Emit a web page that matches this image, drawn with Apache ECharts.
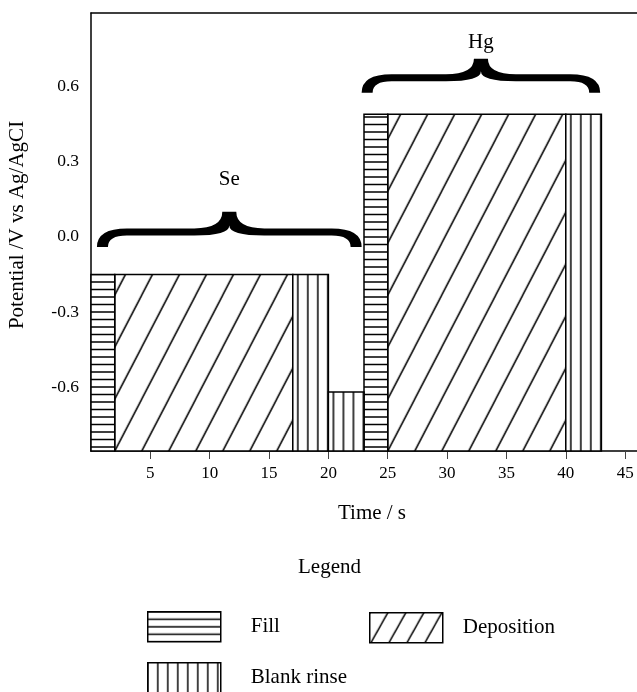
<!DOCTYPE html>
<html>
<head>
<meta charset="utf-8">
<script src="https://cdn.jsdelivr.net/npm/echarts@6/dist/echarts.min.js"></script>
<style>
  html, body { margin: 0; padding: 0; background: #fff; }
  #chart { width: 637px; height: 692px; }
</style>
</head>
<body>
<div id="chart"></div>
<script>
const FONT = '"Liberation Serif", "DejaVu Serif", serif';

// Potential program: [start time / s, end time / s, potential / V]
const seriesNames = ['Fill', 'Deposition', 'Blank rinse'];
const fillSteps = [[0, 2, -0.15], [23, 25, 0.49]];
const depositionSteps = [[2, 17, -0.15], [25, 40, 0.49]];
const rinseSteps = [[17, 20, -0.15], [20, 23, -0.62], [40, 43, 0.49]];

// Element brackets: [start s, end s, hook potential, tip potential, label potential, label]
const braceGroups = [
  [0.5, 22.8, -0.04, 0.10, 0.228, 'Se'],
  [22.8, 42.9, 0.576, 0.712, 0.776, 'Hg']
];

const xTicks = [5, 10, 15, 20, 25, 30, 35, 40, 45];
const yTicks = [-0.6, -0.3, 0.0, 0.3, 0.6];
const X_MIN = 0, X_MAX = 46;
const Y_MIN = -0.856, Y_MAX = 0.895;

// Hatch tiles used as repeating fills
function tile(w, h, draw) {
  const c = document.createElement('canvas');
  c.width = w; c.height = h;
  const ctx = c.getContext('2d');
  ctx.fillStyle = '#fff';
  ctx.fillRect(0, 0, w, h);
  ctx.strokeStyle = '#000';
  ctx.lineWidth = 1.5;
  ctx.beginPath();
  draw(ctx, w, h);
  ctx.stroke();
  return c;
}
function diagonal(ctx, w, h) {
  for (let k = -1; k <= 1; k++) {
    ctx.moveTo(k * w - w, 2 * h);
    ctx.lineTo(k * w + 2 * w, -h);
  }
}
const horizontalTile = tile(10, 15, (ctx, w) => {
  ctx.moveTo(0, 3.5); ctx.lineTo(w, 3.5);
  ctx.moveTo(0, 11); ctx.lineTo(w, 11);
});
const verticalTile = tile(10, 10, (ctx, w, h) => {
  ctx.moveTo(5, 0); ctx.lineTo(5, h);
});
const diagonalTile = tile(27, 52, diagonal);

// Finer tiles for the legend swatches
const horizontalKeyTile = tile(10, 15, (ctx, w) => {
  ctx.moveTo(0, 0); ctx.lineTo(w, 0);
  ctx.moveTo(0, 7.5); ctx.lineTo(w, 7.5);
  ctx.moveTo(0, 15); ctx.lineTo(w, 15);
});
const verticalKeyTile = tile(10, 10, (ctx, w, h) => {
  ctx.moveTo(0, 0); ctx.lineTo(0, h);
  ctx.moveTo(w, 0); ctx.lineTo(w, h);
});
const diagonalKeyTile = tile(18, 32, diagonal);

function pattern(img, x, y) {
  return { image: img, repeat: 'repeat', x: x || 0, y: y || 0 };
}

function stepRenderer(img) {
  return function (params, api) {
    const p0 = api.coord([api.value(0), Y_MIN]);
    const p1 = api.coord([api.value(1), api.value(2)]);
    const x = p0[0], y = p1[1];
    return {
      type: 'rect',
      shape: { x: x, y: y, width: p1[0] - p0[0], height: p0[1] - p1[1] },
      style: { fill: pattern(img, x, p0[1]), stroke: '#000', lineWidth: 1.5 }
    };
  };
}

function braceRenderer(params, api) {
  const x0v = api.value(0), x1v = api.value(1);
  const a = api.coord([x0v, api.value(2)]);
  const b = api.coord([x1v, api.value(2)]);
  const tip = api.coord([(x0v + x1v) / 2, api.value(3)]);
  const lab = api.coord([(x0v + x1v) / 2, api.value(4)]);
  const x0 = a[0], x1 = b[0], yb = a[1], xc = tip[0], yt = tip[1];
  const ym = yb - 15, t = 7, r = 30, rc = 35, w = 11, hw = 7;
  const top = ym - t / 2, bot = ym + t / 2;
  const d = [
    'M', x0, yb,
    'Q', x0, top, x0 + r, top,
    'L', xc - rc, top,
    'Q', xc - hw, top, xc - hw, yt,
    'L', xc + hw, yt,
    'Q', xc + hw, top, xc + rc, top,
    'L', x1 - r, top,
    'Q', x1, top, x1, yb,
    'L', x1 - w, yb,
    'Q', x1 - w, bot, x1 - r, bot,
    'L', xc + rc, bot,
    'Q', xc, bot, xc, top - 3,
    'Q', xc, bot, xc - rc, bot,
    'L', x0 + r, bot,
    'Q', x0 + w, bot, x0 + w, yb,
    'Z'
  ].join(' ');
  return {
    type: 'group',
    children: [
      { type: 'path', shape: { pathData: d }, style: { fill: '#000' } },
      {
        type: 'text', x: lab[0], y: lab[1],
        style: {
          text: api.value(5), fill: '#000',
          font: '21px ' + FONT, align: 'center', verticalAlign: 'middle'
        }
      }
    ]
  };
}

const chart = echarts.init(document.getElementById('chart'), null, { renderer: 'canvas' });

function legendEntry(name, left, top, pad, keyTile) {
  return {
    data: [name], left: left, top: top,
    orient: 'horizontal', icon: 'rect',
    itemWidth: 73, itemHeight: 30,
    selectedMode: false, padding: 0,
    itemStyle: { color: pattern(keyTile), borderColor: '#000', borderWidth: 1.5 },
    textStyle: { fontFamily: FONT, fontSize: 21, color: '#000', padding: [0, 0, 0, pad] }
  };
}

const option = {
  animation: false,
  backgroundColor: '#fff',
  textStyle: { fontFamily: FONT, color: '#000' },
  title: {
    text: 'Legend', left: 293, top: 552,
    textStyle: { fontFamily: FONT, fontSize: 21, fontWeight: 'normal', color: '#000' }
  },
  legend: [
    legendEntry(seriesNames[0], 147, 611, 25, horizontalKeyTile),
    legendEntry(seriesNames[1], 369, 612, 15, diagonalKeyTile),
    legendEntry(seriesNames[2], 147, 662, 25, verticalKeyTile)
  ],
  grid: { left: 91, right: 0, top: 13, bottom: 241, containLabel: false, outerBoundsMode: 'none' },
  xAxis: [
    {
      type: 'value', min: X_MIN, max: X_MAX, position: 'bottom',
      axisLine: { show: true, onZero: false, lineStyle: { color: '#000', width: 1.5 } },
      axisTick: { show: true, customValues: xTicks, length: 8, lineStyle: { color: '#444', width: 1 } },
      axisLabel: { customValues: xTicks, margin: 14, fontSize: 17, fontFamily: FONT, color: '#000' },
      splitLine: { show: false },
      name: 'Time / s', nameLocation: 'middle', nameGap: 52,
      nameTextStyle: { fontFamily: FONT, fontSize: 21, color: '#000', padding: [0, 0, 0, 16] }
    },
    {
      type: 'value', min: X_MIN, max: X_MAX, position: 'top',
      axisLine: { show: true, onZero: false, lineStyle: { color: '#000', width: 1.5 } },
      axisTick: { show: false }, axisLabel: { show: false }, splitLine: { show: false }
    }
  ],
  yAxis: {
    type: 'value', min: Y_MIN, max: Y_MAX,
    axisLine: { show: true, onZero: false, lineStyle: { color: '#000', width: 1.5 } },
    axisTick: { show: false },
    axisLabel: {
      customValues: yTicks, margin: 12, fontSize: 17.5, fontFamily: FONT, color: '#000',
      formatter: v => v.toFixed(1)
    },
    splitLine: { show: false },
    name: 'Potential /V vs Ag/AgCI', nameLocation: 'middle', nameGap: 63,
    nameTextStyle: { fontFamily: FONT, fontSize: 21, color: '#000', padding: [0, 0, 0, 14] }
  },
  series: [
    {
      type: 'custom', name: seriesNames[0], data: fillSteps,
      encode: { x: [0, 1], y: 2 }, renderItem: stepRenderer(horizontalTile),
      itemStyle: { color: pattern(horizontalTile) }, z: 3
    },
    {
      type: 'custom', name: seriesNames[1], data: depositionSteps,
      encode: { x: [0, 1], y: 2 }, renderItem: stepRenderer(diagonalTile),
      itemStyle: { color: pattern(diagonalTile) }, z: 2
    },
    {
      type: 'custom', name: seriesNames[2], data: rinseSteps,
      encode: { x: [0, 1], y: 2 }, renderItem: stepRenderer(verticalTile),
      itemStyle: { color: pattern(verticalTile) }, z: 3
    },
    {
      type: 'custom', name: 'brackets', data: braceGroups, silent: true,
      encode: { x: [0, 1], y: [2, 3, 4] }, renderItem: braceRenderer, z: 5
    }
  ]
};

chart.setOption(option);
</script>
</body>
</html>
